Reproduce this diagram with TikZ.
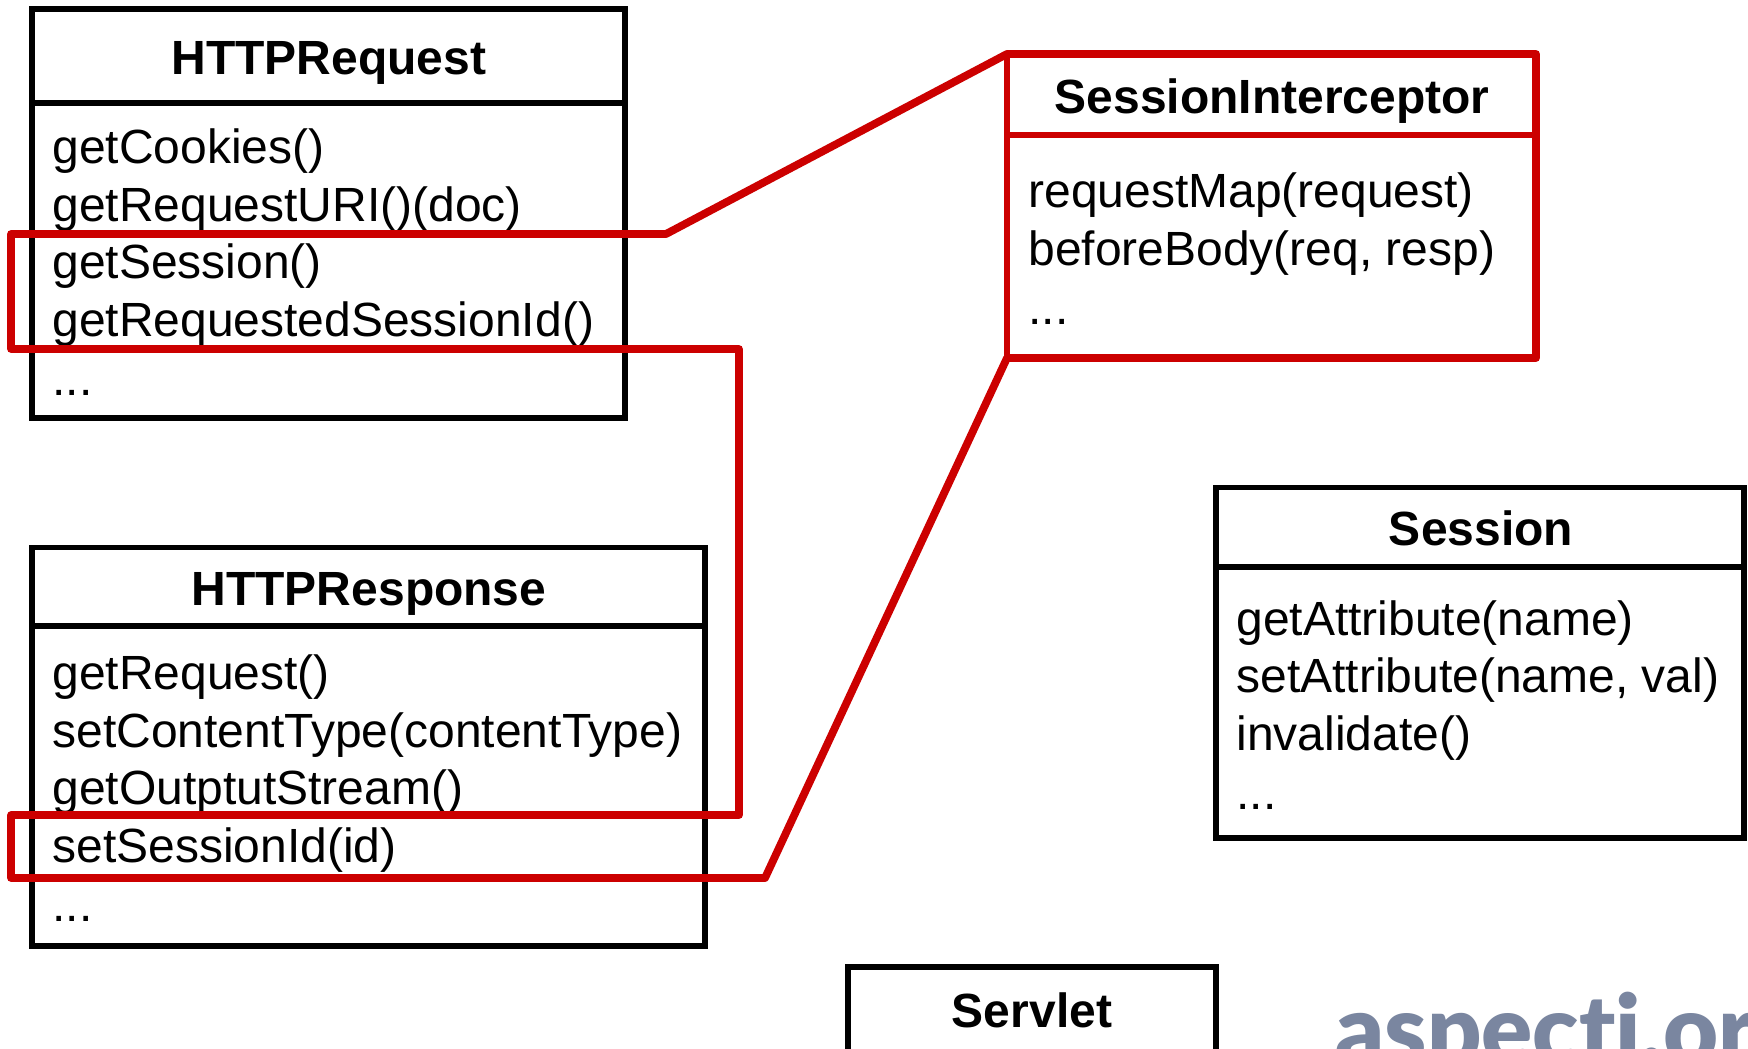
\documentclass[tikz,border=0pt]{standalone}
\usepackage{fontspec}
\setmainfont{Liberation Sans}
\newfontfamily\logofont{Lato Black}
\definecolor{redline}{RGB}{204,0,0}
\definecolor{logoblue}{RGB}{122,134,160}
\tikzset{
  cell/.style={draw=black,line width=2.6pt,anchor=north west,inner sep=0pt,outer sep=0pt},
  redcell/.style={draw=redline,line width=2.8pt,anchor=north west,inner sep=0pt,outer sep=0pt},
  titletext/.style={anchor=base,inner sep=0pt,font=\fontsize{24}{28.75}\selectfont\bfseries},
  bodytext/.style={anchor=base west,inner sep=0pt,font=\fontsize{24}{28.75}\selectfont},
  redpath/.style={draw=redline,line width=3.9pt,line join=round,line cap=round},
}
\begin{document}
\begin{tikzpicture}[x=0.5pt,y=-0.5pt]
\useasboundingbox (0,0) rectangle (1748,1048);
\clip (0,0) rectangle (1748,1048);
\fill[white] (0,0) rectangle (1748,1048);
% HTTPRequest
\node[cell,minimum width=296.5pt,minimum height=47pt] (reqhead) at (32,9) {};
\node[cell,minimum width=296.5pt,minimum height=157.5pt] (reqbody) at (32,103) {};
\node[titletext] (reqtitle) at (329,75) {HTTPRequest};
\node[bodytext] (req1) at (52,164) {getCookies()};
\node[bodytext] (req2) at (52,221) {getRequestURI()(doc)};
\node[bodytext] (req3) at (52,278) {getSession()};
\node[bodytext] (req4) at (52,336) {getRequestedSessionId()};
\node[bodytext] (req5) at (52,395) {...};
% HTTPResponse
\node[cell,minimum width=336.5pt,minimum height=39pt] (resphead) at (32,547.5) {};
\node[cell,minimum width=336.5pt,minimum height=160pt] (respbody) at (32,626) {};
\node[titletext] (resptitle) at (369,605) {HTTPResponse};
\node[bodytext] (resp1) at (52,689) {getRequest()};
\node[bodytext] (resp2) at (52,747) {setContentType(contentType)};
\node[bodytext] (resp3) at (52,804) {getOutptutStream()};
\node[bodytext] (resp4) at (52,862) {setSessionId(id)};
\node[bodytext] (resp5) at (52,921) {...};
% Session
\node[cell,minimum width=264pt,minimum height=39.5pt] (sesshead) at (1216,487.5) {};
\node[cell,minimum width=264pt,minimum height=135.5pt] (sessbody) at (1216,567) {};
\node[titletext] (sesstitle) at (1481,545) {Session};
\node[bodytext] (sess1) at (1236,635) {getAttribute(name)};
\node[bodytext] (sess2) at (1236,692) {setAttribute(name, val)};
\node[bodytext] (sess3) at (1236,750) {invalidate()};
\node[bodytext] (sess4) at (1236,809) {...};
% Servlet
\node[cell,minimum width=184pt,minimum height=60pt] (servbox) at (848,967) {};
\node[titletext] (servtitle) at (1032,1027) {Servlet};
% SessionInterceptor
\node[redcell,minimum width=264.5pt,minimum height=40.5pt] (sihead) at (1007,54) {};
\node[redcell,minimum width=264.5pt,minimum height=111.5pt] (sibody) at (1007,135) {};
\node[titletext] (sititle) at (1272,114) {SessionInterceptor};
\node[bodytext] (si1) at (1028,207) {requestMap(request)};
\node[bodytext] (si2) at (1028,265) {beforeBody(req, resp)};
\node[bodytext] (si3) at (1028,324) {...};
% Logo
\node[anchor=base west,inner sep=0pt,text=logoblue,font=\fontsize{47.5}{47.5}\logofont] (logo) at (1335,1063) {aspectj.org};
% Red outlines
\coordinate (r1) at (666,234);
\coordinate (r2) at (11,234);
\coordinate (r3) at (11,349);
\coordinate (r4) at (739,349);
\coordinate (r5) at (739,815);
\coordinate (r6) at (11,815);
\coordinate (r7) at (11,878);
\coordinate (r8) at (765,878);
\draw[redpath] (sihead.north east) -- (sihead.north west) -- (r1) -- (r2) -- (r3) -- (r4) -- (r5) -- (r6) -- (r7) -- (r8) -- (sibody.south west) -- (sibody.south east) -- cycle;
\end{tikzpicture}
\end{document}
